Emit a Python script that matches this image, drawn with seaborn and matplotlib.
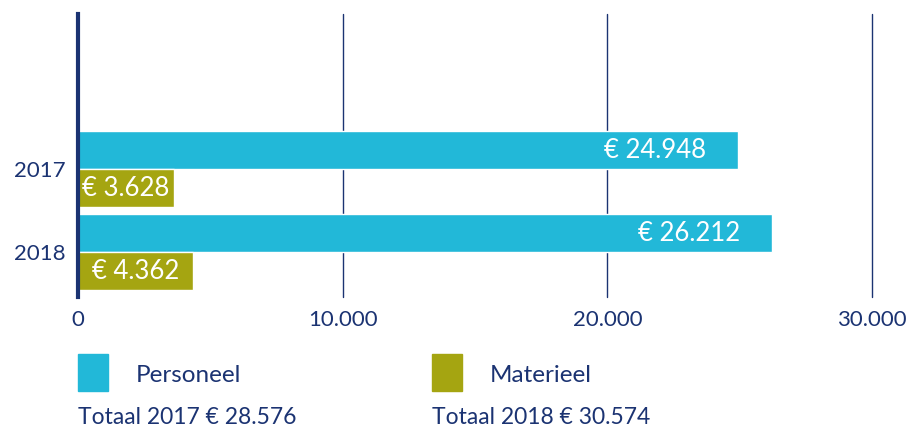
import pandas as pd
import numpy as np
import matplotlib
matplotlib.use("Agg")
import matplotlib.pyplot as plt
import seaborn as sns
from matplotlib.patches import Rectangle

# data
jaren = ["2017", "2018"]
personeel = [24948, 26212]
materieel = [3628, 4362]
totalen = [28576, 30574]
x_ticks = [0, 10000, 20000, 30000]

navy = "#1b3372"
cyan = "#22b8d8"
olive = "#a5a511"

def nl(v):
    return f"{v:,}".replace(",", ".")

df = pd.DataFrame({
    "Jaar": jaren * 2,
    "Bedrag": personeel + materieel,
    "Soort": ["Personeel"] * 2 + ["Materieel"] * 2,
})

sns.set_style("white")
plt.rcParams["font.family"] = ["Lato", "DejaVu Sans"]

fig = plt.figure(figsize=(9.12, 4.32), dpi=100)
ax = fig.add_axes([78 / 912, 1 - 297 / 432, 794 / 912, 283 / 432])

sns.barplot(data=df, y="Jaar", x="Bedrag", hue="Soort", orient="h",
            palette={"Personeel": cyan, "Materieel": olive},
            width=0.916, legend=False, ax=ax, saturation=1)

ax.set_xlim(0, 30000)
ax.set_ylim(1.54, -1.87)
ax.set_xticks(x_ticks)
ax.set_xticklabels([nl(t) for t in x_ticks])
ax.set_xlabel("")
ax.set_ylabel("")
ax.tick_params(axis="both", length=0, colors=navy, labelsize=16)
ax.tick_params(axis="x", pad=9)
ax.tick_params(axis="y", pad=9)
for lab in ax.get_xticklabels() + ax.get_yticklabels():
    lab.set_color(navy)

for s in ["top", "right", "bottom"]:
    ax.spines[s].set_visible(False)
ax.spines["left"].set_color(navy)
ax.spines["left"].set_linewidth(3)
ax.spines["left"].set_zorder(5)

for t in x_ticks[1:]:
    ax.axvline(t, color=navy, lw=1.0, zorder=0, clip_on=False)

# labels
pers_bars = ax.containers[0]
mat_bars = ax.containers[1]
for bar, v in zip(pers_bars, personeel):
    ax.annotate(f"€ {nl(v)}", (bar.get_width(), bar.get_y() + bar.get_height() / 2),
                xytext=(-32, 0), textcoords="offset pixels", ha="right", va="center",
                color="white", fontsize=18.5)
ax.bar_label(mat_bars, labels=[f"€ {nl(v)}" for v in materieel],
             label_type="center", color="white", fontsize=18.5)

# legend
fig.patches.append(Rectangle((78 / 912, 1 - 391 / 432), 30 / 912, 37 / 432,
                             transform=fig.transFigure, color=cyan))
fig.patches.append(Rectangle((432 / 912, 1 - 391 / 432), 30 / 912, 37 / 432,
                             transform=fig.transFigure, color=olive))
fig.text(136 / 912, 1 - 375 / 432, "Personeel", color=navy, fontsize=17.5, va="center")
fig.text(490 / 912, 1 - 375 / 432, "Materieel", color=navy, fontsize=17.5, va="center")
fig.text(78 / 912, 1 - 417 / 432, f"Totaal {jaren[0]} € {nl(totalen[0])}",
         color=navy, fontsize=16.5, va="center")
fig.text(432 / 912, 1 - 417 / 432, f"Totaal {jaren[1]} € {nl(totalen[1])}",
         color=navy, fontsize=16.5, va="center")

fig.savefig("out.png", dpi=100)
